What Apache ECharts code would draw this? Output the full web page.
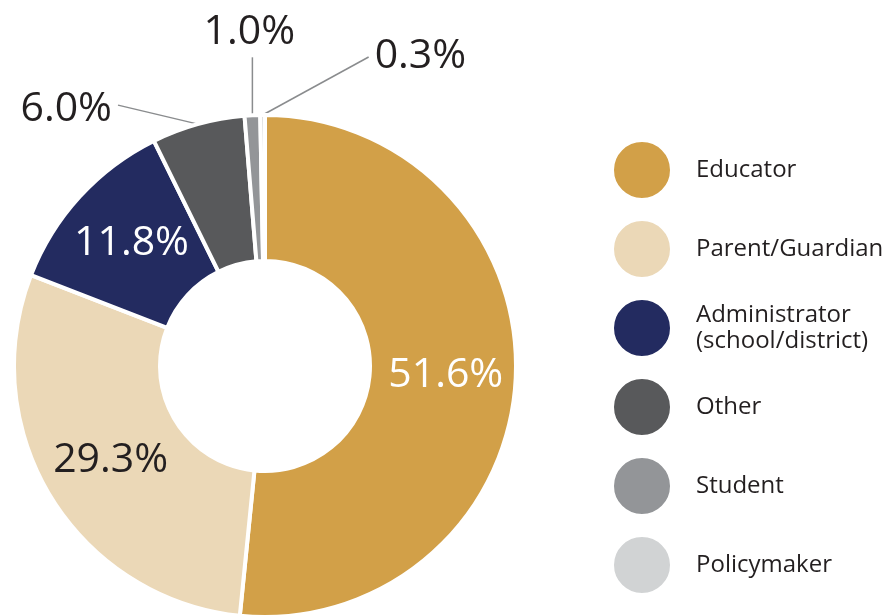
<!DOCTYPE html>
<html>
<head>
<meta charset="utf-8">
<style>
  html, body { margin: 0; padding: 0; background: #fff; }
  #main { width: 888px; height: 616px; }
</style>
<script src="https://cdn.jsdelivr.net/npm/echarts@6/dist/echarts.min.js"></script>
</head>
<body>
<div id="main"></div>
<script>
// data
var categories = ['Educator', 'Parent/Guardian', 'Administrator\n(school/district)', 'Other', 'Student', 'Policymaker'];
var shares = [51.6, 29.3, 11.8, 6.0, 1.0, 0.3];
var colors = ['#D2A048', '#EBD8B7', '#232B60', '#58595B', '#939598', '#D1D3D4'];

var textColor = '#231F20';
// small slices get a leader line; offset of the line end from the slice edge
var leader = { 3: [-80, -19], 4: [0, -58], 5: [106, -58] };

var myChart = echarts.init(document.getElementById('main'));

var items = categories.map(function (name, i) {
    var item = { name: name, value: shares[i], itemStyle: { color: colors[i] } };
    if (i < 3) {
        item.label = { position: 'inside', color: i === 1 ? textColor : '#fff' };
        item.labelLine = { show: false };
    } else {
        item.label = { position: 'outside', color: textColor };
        item.labelLine = { show: true, length: 20, length2: 0 };
    }
    return item;
});

var option = {
    animation: false,
    color: colors,
    legend: {
        orient: 'vertical',
        left: 612,
        top: 140,
        padding: 0,
        icon: 'circle',
        itemWidth: 58,
        itemHeight: 58,
        itemGap: 19,
        selectedMode: false,
        textStyle: {
            fontFamily: 'Open Sans',
            fontSize: 24,
            lineHeight: 26,
            color: textColor,
            padding: [0, 0, 0, 20]
        },
        data: categories
    },
    series: [{
        type: 'pie',
        center: [265, 366],
        radius: [105, 251],
        startAngle: 90,
        clockwise: true,
        avoidLabelOverlap: false,
        itemStyle: { borderColor: '#fff', borderWidth: 4 },
        label: {
            show: true,
            formatter: function (p) { return p.value.toFixed(1) + '%'; },
            fontFamily: 'Open Sans',
            fontSize: 41
        },
        labelLine: {
            lineStyle: { color: '#8a8c8e', width: 1.5 }
        },
        labelLayout: function (params) {
            var off = leader[params.dataIndex];
            if (!off || !params.labelLinePoints) return {};
            var p0 = params.labelLinePoints[0];
            var end = [p0[0] + off[0], p0[1] + off[1]];
            var out = { labelLinePoints: [p0, end, end] };
            if (off[0] < 0) {
                out.x = end[0] - 6; out.y = end[1] + 4;
                out.align = 'right'; out.verticalAlign = 'middle';
            } else if (off[0] === 0) {
                out.x = end[0] - 3; out.y = end[1] - 4;
                out.align = 'center'; out.verticalAlign = 'bottom';
            } else {
                out.x = end[0] + 6; out.y = end[1] - 1;
                out.align = 'left'; out.verticalAlign = 'middle';
            }
            return out;
        },
        data: items
    }]
};

myChart.setOption(option);
</script>
</body>
</html>
